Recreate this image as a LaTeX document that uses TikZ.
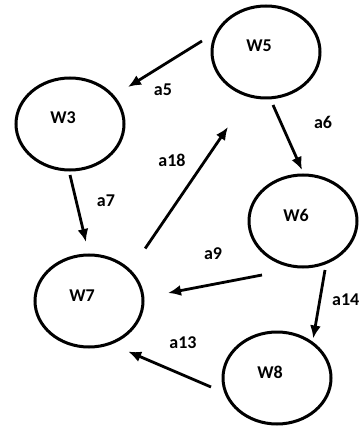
\documentclass[tikz,border=0pt]{standalone}
\usepackage{fontspec}
\setmainfont{Carlito}
\usepackage{tikz}
\usetikzlibrary{shapes,arrows.meta,positioning}

\begin{document}
\begin{tikzpicture}[x=1pt, y=-1pt,
        state/.style={ellipse, draw=black, line width=3pt, minimum width=108pt, minimum height=92pt, outer sep=0pt, font=\fontsize{18}{20}\selectfont\bfseries, text height=12pt, text depth=12pt, execute at begin node={\hspace*{-14pt}}},
        arrow/.style={-{Latex[length=13pt,width=11pt]}, line width=2.8pt},
        lbl/.style={font=\fontsize{18}{20}\selectfont\bfseries, inner sep=0pt}
    ]
    \useasboundingbox (0,0) rectangle (361,427);

    % States
    \node[state] (W5) at (266,52) {W5};
    \node[state] (W3) at (70,124) {W3};
    \node[state] (W6) at (303,221) {W6};
    \node[state] (W7) at (89,301) {W7};
    \node[state] (W8) at (277,378) {W8};

    % Labels
    \node[lbl] (l5) at (163,90) {a5};
    \node[lbl] (l6) at (323,122) {a6};
    \node[lbl] (l18) at (172,160) {a18};
    \node[lbl] (l7) at (106,201) {a7};
    \node[lbl] (l9) at (213,254) {a9};
    \node[lbl, anchor=west] (l14) at (332,300) {a14};
    \node[lbl] (l13) at (183,343) {a13};

    % Arrows
    % W5 to W3 (a5)
    \draw[arrow] ([shift={(-10,-11)}]W5.west) -- ([shift={(4,-37)}]W3.east);

    % W5 to W6 (a6)
    \draw[arrow] ([shift={(7,7)}]W5.south) -- ([shift={(-1,-5)}]W6.north);

    % W7 to W5 (a18)
    \draw[arrow] ([shift={(18,-20)}]W7.north east) -- ([shift={(-38,29)}]W5.south);

    % W3 to W7 (a7)
    \draw[arrow] ([shift={(0,5)}]W3.south) -- ([shift={(-3,-13)}]W7.north);

    % W6 to W7 (a9)
    \draw[arrow] ([shift={(-41,8)}]W6.south) -- ([shift={(25,-8)}]W7.east);

    % W6 to W8 (a14)
    \draw[arrow] ([shift={(22,3)}]W6.south) -- ([shift={(-2,-7)}]W8.north east);

    % W8 to W7 (a13)
    \draw[arrow] ([shift={(-12,9)}]W8.west) -- ([shift={(1,18)}]W7.south east);

\end{tikzpicture}
\end{document}
